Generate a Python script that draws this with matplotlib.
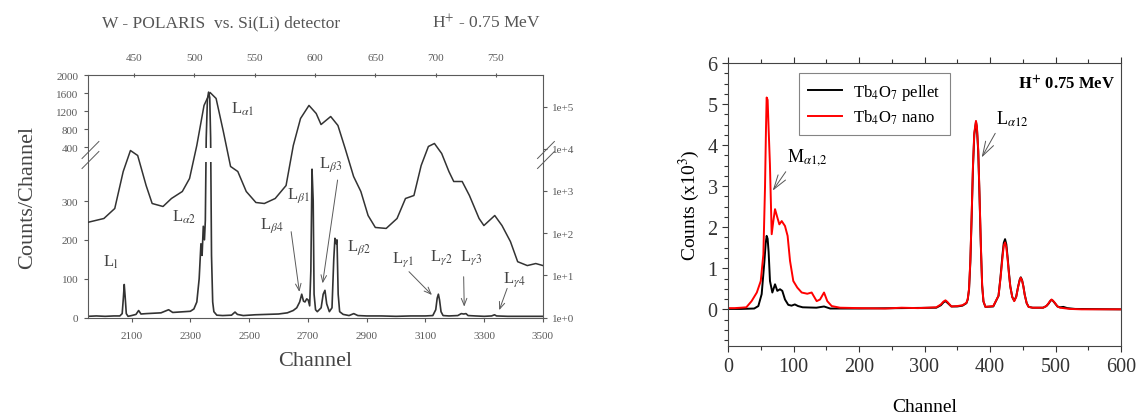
import numpy as np
from matplotlib import pyplot as plt
from matplotlib.patches import Rectangle
from matplotlib.ticker import FixedLocator, FuncFormatter, MultipleLocator

plt.rcParams['font.family'] = ['Liberation Serif', 'DejaVu Serif']
plt.rcParams['mathtext.fontset'] = 'stix'

# ---- left panel: W-POLARIS (bottom/left axes) ----
W_CH = [1950, 1980, 2010, 2040, 2060, 2068, 2072, 2075, 2078, 2082, 2088, 2100, 2115, 2124,
        2132, 2150, 2175, 2200, 2226, 2240, 2260, 2280, 2300, 2312, 2322, 2330, 2336, 2340,
        2344, 2348, 2351, 2354, 2358, 2362, 2366, 2369, 2372, 2376, 2380, 2390, 2410, 2440,
        2452, 2460, 2480, 2520, 2560, 2600, 2630, 2650, 2662, 2672, 2679, 2685, 2690, 2696,
        2701, 2706, 2710, 2714, 2718, 2721, 2726, 2732, 2745, 2752, 2758, 2764, 2773, 2782,
        2788, 2792, 2796, 2799, 2803, 2808, 2820, 2840, 2856, 2870, 2900, 2950, 3000, 3050,
        3100, 3125, 3135, 3140, 3144, 3148, 3153, 3160, 3180, 3210, 3222, 3230, 3238, 3245,
        3270, 3300, 3325, 3335, 3342, 3380, 3420, 3460, 3500]
W_COUNTS = [3, 4, 3, 4, 4, 10, 50, 85, 55, 10, 3, 5, 8, 18,
            9, 10, 11, 12, 20, 13, 14, 15, 16, 22, 40, 100, 190, 160,
            235, 200, 250, 600, 1450, 1620, 1500, 600, 160, 40, 15, 6, 5, 6,
            14, 8, 5, 7, 8, 9, 12, 18, 25, 40, 60, 42, 40, 48,
            45, 30, 120, 382, 300, 60, 20, 15, 25, 60, 70, 35, 15, 25,
            150, 204, 190, 200, 60, 15, 8, 5, 10, 5, 4, 4, 3, 4,
            4, 5, 20, 50, 60, 45, 15, 5, 4, 5, 10, 9, 10, 5,
            4, 3, 4, 7, 4, 3, 3, 3, 3]

# Si(Li) spectrum (top/right axes, log)
SI_CH = [411, 425, 434, 441, 447, 453, 460, 465, 474, 481, 490, 496, 502, 508, 513, 518,
         524, 530, 536, 543, 551, 558, 567, 576, 582, 588, 595, 601, 605, 613, 619, 625,
         632, 638, 644, 650, 659, 668, 675, 682, 688, 694, 699, 705, 711, 715, 722, 728,
         736, 740, 749, 755, 762, 768, 776, 783, 789]
SI_COUNTS = [178, 222, 383, 2880, 9060, 6900, 1340, 503, 427, 661, 968, 1970, 11900,
             106000, 215000, 155000, 25600, 3790, 2880, 968, 531, 503, 661, 1340, 11900,
             52000, 106000, 68200, 37400, 57900, 35500, 10100, 2190, 968, 261, 136, 129,
             222, 661, 778, 4000, 11300, 13300, 7700, 2880, 1670, 1670, 778, 222, 151, 261,
             151, 63, 21, 17, 19, 17]

LEFT_YTICKS = [0, 100, 200, 300, 400, 800, 1200, 1600, 2000]
BOTTOM_XTICKS = [2100, 2300, 2500, 2700, 2900, 3100, 3300, 3500]
TOP_XTICKS = [450, 500, 550, 600, 650, 700, 750]

# peak labels: text, (channel, counts)
PEAK_LABELS = [
    (r'L$_\mathrm{l}$', 2029, 144),
    (r'L$_{\alpha 2}$', 2278, 260),
    (r'L$_{\alpha 1}$', 2479, 1267),
    (r'L$_{\beta 4}$', 2576, 238),
    (r'L$_{\beta 1}$', 2667, 316),
    (r'L$_{\beta 3}$', 2776, 397),
    (r'L$_{\beta 2}$', 2873, 182),
    (r'L$_{\gamma 1}$', 3025, 152),
    (r'L$_{\gamma 2}$', 3153, 157),
    (r'L$_{\gamma 3}$', 3256, 157),
    (r'L$_{\gamma 4}$', 3402, 101),
]
# arrows: (tail channel, tail counts, head channel, head counts)
PEAK_ARROWS = [
    (2643, 221, 2671, 66),
    (2801, 354, 2750, 88),
    (3044, 118, 3122, 58),
    (3230, 105, 3232, 28),
    (3378, 75, 3351, 19),
]

# ---- right panel: Tb4O7 ----
PELLET_CH = [0, 20, 40, 46.3, 51.4, 55.5, 57.5, 59, 60.5, 62, 64.1, 67.7, 71.8, 75.3, 79.4,
             82.9, 87, 92, 97, 102, 107, 114, 135, 146.6, 156, 200, 265, 318, 325, 329, 332,
             335, 341, 350, 358, 364, 366, 368, 370, 372, 374, 376, 378.6, 380, 382, 384,
             386, 388, 390, 393, 405, 413, 416, 419, 421, 423, 425, 427, 429, 431, 434, 437,
             440, 443, 445.5, 447, 449, 451, 453, 456, 459, 465, 481, 486, 489, 492, 494, 496,
             499, 503, 507, 512, 518, 530, 600]
PELLET_COUNTS = [0.01, 0.01, 0.02, 0.08, 0.37, 1.15, 1.60, 1.79, 1.72, 1.40, 0.69, 0.41,
                 0.61, 0.45, 0.49, 0.45, 0.24, 0.11, 0.09, 0.12, 0.08, 0.05, 0.04, 0.07,
                 0.02, 0.02, 0.03, 0.04, 0.10, 0.17, 0.20, 0.16, 0.07, 0.07, 0.09, 0.15, 0.24,
                 0.48, 1.15, 2.25, 3.45, 4.25, 4.57, 4.42, 3.85, 2.75, 1.55, 0.58, 0.19, 0.06,
                 0.07, 0.33, 0.78, 1.32, 1.62, 1.71, 1.58, 1.25, 0.88, 0.56, 0.30, 0.21, 0.31,
                 0.56, 0.73, 0.78, 0.71, 0.56, 0.36, 0.15, 0.06, 0.04, 0.04, 0.08, 0.13, 0.20,
                 0.23, 0.21, 0.15, 0.07, 0.05, 0.06, 0.03, 0.01, 0.0]
NANO_CH = [0, 10, 20, 28, 36, 44, 50, 54, 56.5, 58, 59, 60.5, 62, 64, 66.7, 69.2, 71.8,
           75.3, 78.4, 82, 87, 91, 94.7, 99.7, 105.8, 112.5, 121, 127.7, 135.4, 140.5,
           146.6, 151.6, 158.3, 171, 200, 240, 265, 290, 318, 325, 329, 332, 335, 341, 350,
           358, 364, 366, 368, 370, 372, 374, 376, 378.6, 380, 382, 384, 386, 388, 390, 393,
           405, 413, 416, 419, 421, 423, 425, 427, 429, 431, 434, 437, 440, 443, 445.5, 447,
           449, 451, 453, 456, 459, 465, 481, 486, 489, 492, 494, 496, 499, 503, 507, 522,
           540, 600]
NANO_COUNTS = [0.03, 0.03, 0.04, 0.05, 0.20, 0.41, 0.69, 1.34, 2.97, 4.40, 5.16, 5.10, 4.40,
               3.54, 1.83, 2.15, 2.44, 2.24, 2.07, 2.15, 2.03, 1.79, 1.18, 0.69, 0.53, 0.41,
               0.38, 0.41, 0.20, 0.24, 0.41, 0.20, 0.08, 0.04, 0.03, 0.02, 0.04, 0.03, 0.05,
               0.12, 0.19, 0.22, 0.18, 0.07, 0.08, 0.10, 0.16, 0.25, 0.50, 1.20, 2.30, 3.50,
               4.30, 4.59, 4.45, 3.90, 2.80, 1.60, 0.60, 0.20, 0.06, 0.08, 0.33, 0.75, 1.25,
               1.55, 1.63, 1.50, 1.20, 0.85, 0.55, 0.30, 0.20, 0.30, 0.55, 0.72, 0.77, 0.70,
               0.55, 0.35, 0.15, 0.06, 0.04, 0.04, 0.08, 0.14, 0.21, 0.24, 0.21, 0.16, 0.07,
               0.04, 0.01, 0.0, 0.0]

GRAY = '#5a5a5a'
LINE = '#333333'


def fwd(v):
    v = np.asarray(v, float)
    return np.where(v < 400, v * 0.3875, 170 + (v - 400) * 0.045)


def inv(p):
    p = np.asarray(p, float)
    return np.where(p < 155, p / 0.3875,
                    np.where(p < 170, 400, 400 + (p - 170) / 0.045))


fig = plt.figure(figsize=(11.36, 4.14), dpi=100)

# left panel
AX_H = 242.5
ax = fig.add_axes([87.5 / 1136, 95.5 / 414, 455.5 / 1136, AX_H / 414])
ax.set_yscale('function', functions=(fwd, inv))
ax.plot(W_CH, W_COUNTS, color=LINE, lw=1.2)
ax.set_xlim(1950, 3500)
ax.set_ylim(0, 2000)
ax.yaxis.set_major_locator(FixedLocator(LEFT_YTICKS))
ax.yaxis.set_minor_locator(FixedLocator([]))
ax.set_xticks(BOTTOM_XTICKS)
ax.tick_params(labelsize=8, colors=GRAY, length=3, width=0.8)
ax.tick_params(axis='x', pad=7)
for s in ax.spines.values():
    s.set_color(GRAY)
ax.set_ylabel('Counts/Channel', fontsize=16, color='#444444', labelpad=14)
ax.set_xlabel('Channel', fontsize=16, color='#444444', labelpad=8)

# axis break: blank band and // marks
ax.add_patch(Rectangle((0.003, 155.5 / AX_H), 0.994, 14 / AX_H, transform=ax.transAxes,
                       facecolor='white', edgecolor='none', zorder=3))
for xs in (0.0, 1.0):
    for p0 in (149, 159):
        ax.plot([xs - 0.012, xs + 0.025], [p0 / AX_H, (p0 + 17) / AX_H], color=GRAY,
                lw=0.7, transform=ax.transAxes, clip_on=False, zorder=4)

for txt, cx, cy in PEAK_LABELS:
    ax.text(cx, cy, txt, fontsize=12, color='#444444', ha='center', va='center')
for tx, ty, hx, hy in PEAK_ARROWS:
    ax.annotate('', xy=(hx, hy), xytext=(tx, ty),
                arrowprops=dict(arrowstyle='->,head_length=0.5,head_width=0.2',
                                color=GRAY, lw=0.7, shrinkA=0, shrinkB=0))

# Si(Li) overlay (top x, right log y)
ax2 = fig.add_axes(ax.get_position(), frameon=False)
ax2.plot(SI_CH, SI_COUNTS, color=LINE, lw=1.1)
ax2.set_yscale('log')
ax2.set_xlim(411.4, 789)
ax2.set_ylim(1, 10 ** (AX_H / 42.2))
ax2.xaxis.tick_top()
ax2.yaxis.tick_right()
ax2.set_xticks(TOP_XTICKS)
ax2.yaxis.set_major_locator(FixedLocator([10.0 ** k for k in range(6)]))
ax2.yaxis.set_minor_locator(FixedLocator([]))
ax2.yaxis.set_major_formatter(FuncFormatter(lambda v, p: '1e+%d' % round(np.log10(v))))
ax2.tick_params(labelsize=8, colors=GRAY, length=3, width=0.8)
ax2.tick_params(axis='x', direction='inout', pad=8)

fig.text(221 / 1136, 1 - 23 / 414, 'W - POLARIS  vs. Si(Li) detector', fontsize=12.5,
         color='#555555', ha='center', va='center')
fig.text(486 / 1136, 1 - 23 / 414, r'H$^{+}$ - 0.75 MeV', fontsize=12.5,
         color='#555555', ha='center', va='center')

# right panel
bx = fig.add_axes([728 / 1136, 66.7 / 414, 393 / 1136, 283.3 / 414])
bx.plot(PELLET_CH, PELLET_COUNTS, color='black', lw=1.4, label=r'Tb$_4$O$_7$ pellet')
bx.plot(NANO_CH, NANO_COUNTS, color='#ff0000', lw=1.4, label=r'Tb$_4$O$_7$ nano')
bx.set_xlim(0, 600)
bx.set_ylim(-0.9, 6)
bx.set_yticks(range(7))
bx.yaxis.set_minor_locator(MultipleLocator(0.25))
bx.xaxis.set_major_locator(MultipleLocator(100))
bx.xaxis.set_minor_locator(MultipleLocator(50))
bx.tick_params(which='both', direction='out', top=True, labelsize=14.5, width=0.8,
               colors='#333333')
bx.tick_params(which='major', length=4)
bx.tick_params(which='minor', length=3)
for s in bx.spines.values():
    s.set_color('#444444')
bx.set_xlabel('Channel', fontsize=14, labelpad=16)
bx.set_ylabel(r'Counts (x10$^3$)', fontsize=14, labelpad=4)
leg = bx.legend(loc='upper left', bbox_to_anchor=(0.181, 0.965), borderaxespad=0,
                fancybox=False, edgecolor='#666666', fontsize=12, handlelength=2.0,
                handletextpad=0.7, borderpad=0.55, labelspacing=0.35)
leg.get_frame().set_linewidth(0.8)
bx.text(0.985, 0.926, r'$\mathbf{H^{+}}$ 0.75 MeV', transform=bx.transAxes, ha='right',
        va='center', fontsize=12, fontweight='bold')
bx.annotate(r'M$_{\alpha 1{,}2}$', xy=(68.2, 2.89), xytext=(120.6, 3.73), fontsize=13,
            ha='center', va='center',
            arrowprops=dict(arrowstyle='->,head_length=0.8,head_width=0.25', color='#555555',
                            lw=0.7, relpos=(0.1, 0.1), shrinkA=2, shrinkB=0))
bx.annotate(r'L$_{\alpha 12}$', xy=(387.3, 3.70), xytext=(434, 4.65), fontsize=13,
            ha='center', va='center',
            arrowprops=dict(arrowstyle='->,head_length=0.8,head_width=0.25', color='#555555',
                            lw=0.7, relpos=(0.1, 0.1), shrinkA=2, shrinkB=0))

plt.savefig('out.png', dpi=100)
plt.close()
